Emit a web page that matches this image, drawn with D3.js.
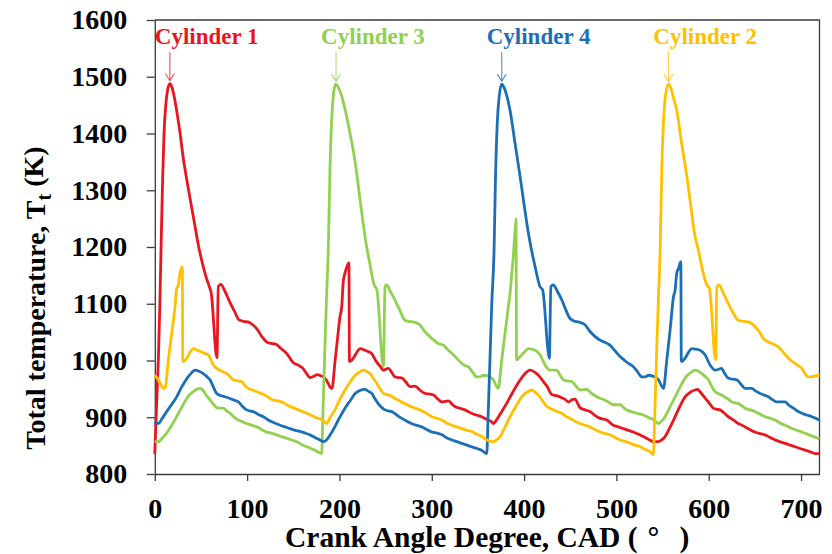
<!DOCTYPE html>
<html>
<head>
<meta charset="utf-8">
<script src="https://cdn.jsdelivr.net/npm/d3@7"></script>
<style>
  html, body { margin: 0; padding: 0; background: #fff; }
  svg { display: block; }
  .serif { font-family: "Liberation Serif", "Times New Roman", "DejaVu Serif", serif; font-weight: bold; }
</style>
</head>
<body>
<svg id="chart" width="832" height="554"></svg>
<script>
// Total temperature per cylinder over one engine cycle: [crank angle (deg), T (K)]
const cylinder1 = [
  [0,835],[2,925],[4,1010],[5.5,1100],[7,1215],[8.5,1320],[10,1400],[12,1452],[14,1478],[16.3,1488],
  [18.5,1482],[21,1465],[24,1437],[27,1405],[31,1355],[35,1315],[39,1278],[43,1242],[47,1205],[51,1175],
  [55,1150],[59.5,1128],[61,1120],[67.3,1005],[68.8,1130],[71.5,1134],[76,1122],[81.5,1102],[86,1088],[91,1072],
  [96,1069],[101,1068],[106,1063],[111,1055],[116,1042],[121,1033],[126,1030],[131,1029],[136,1022],
  [143,1012],[150,996],[155,992],[160,987],[164,978],[168,970],[172,972],[176,975],[180,973],[183,971],
  [186,965],[190,953],[192,951],[195,995],[198,1040],[200.6,1077],[202.5,1095],[204.2,1140],[206,1154],
  [208,1165],[209.7,1171],[210.3,1172],[210.8,998],[215,1004],[219,1015],[222.3,1021],[227.7,1018],
  [232,1015],[235,1012],[240,998],[244,990],[247.6,983],[253,986],[257,978],[260,971],[264,970],[268,969],
  [272,962],[276.5,954],[282,955],[287,948],[292.7,942],[297,941],[302,939],[306,933],[311,927],[318,929],
  [322,923],[325,919],[330,916],[336,913],[343,907],[348,904],[354,901],[361,895],[364,893],[367,889],
  [370,895],[375,908],[381,924],[388,945],[395,964],[400,975],[406.5,983],[411,980],[415.5,974],[420,965],
  [425,954],[430,940],[435,938],[440,935],[444,932],[448,927],[452,931],[455,932],[460.5,917],[466,913],
  [471.5,910],[477,903],[482.4,898],[489.6,895],[496.7,886],[502,883],[507.6,880],[513,877],[518.4,874],
  [524,870],[529,866],[535,861],[540,857],[545.5,857],[549,860],[552.7,866],[558,882],[563.6,901],[569,920],
  [574.4,936],[580,944],[585,948],[588,949],[590.6,945],[594,938],[598,930],[602,922],[605,916],[609,914],
  [612.4,913],[617,907],[621,901],[627,895],[632,889],[636,886],[639.4,883],[645,878],[650,874],[656,871],
  [661,869],[667,864],[672,860],[677,857],[682.7,854],[688,851],[693.6,848],[699,845],[704.4,842],
  [710,839],[715.3,836],[720,836]
];

const cylinder3 = [
  [0,857],[3.8,857],[8,863],[12.9,872],[18,885],[23.7,901],[29,917],[34.6,933],[38,940],[41.7,945],[45,949],
  [49,951],[52,948],[54.4,942],[58,934],[61.6,927],[65,920],[68.8,916],[74,916],[78,911],[81.5,907],[86,900],
  [90.5,895],[95,892],[99.5,889],[105,886],[110.4,883],[115,879],[121,874],[126,872],[132,869],[137,866],
  [143,863],[148,860],[153.7,857],[159,852],[164.6,848],[169,845],[173.6,842],[179,837],[180.8,836],
  [182,900],[184,1010],[186,1110],[188,1200],[189.8,1340],[191.5,1420],[193,1460],[194.5,1480],[196.3,1487],
  [198.5,1482],[202.5,1466],[207,1436],[211.5,1400],[217,1350],[221,1300],[225,1250],[229,1205],[233,1170],
  [237.8,1132],[240.4,1126],[247.6,989],[249.4,1130],[251.2,1133],[255,1122],[260,1107],[265,1090],
  [271,1071],[275,1069],[280,1068],[287,1063],[292,1052],[298,1042],[303,1035],[307,1030],[312.6,1027],
  [318,1018],[323.4,1010],[328,1002],[332.5,995],[336,991],[339.6,989],[344,980],[348.7,971],[352,971],
  [356,974],[361,973],[363,971],[366.7,966],[370,955],[372,951],[375.8,1001],[379.4,1048],[383,1095],
  [384.8,1118],[386.7,1154],[388.4,1185],[390,1225],[391.3,1250],[391.8,1001],[395.7,1007],[400,1014],
  [404.6,1021],[408,1020],[412,1018],[417.3,1010],[422.8,992],[428,983],[435.4,983],[439,974],[442.6,966],
  [447,964],[451.7,963],[456,955],[460.7,948],[468,949],[473,942],[478.8,936],[483,933],[487.8,930],
  [492,926],[496.7,922],[504,922],[508,917],[511,913],[516,910],[522,907],[529,904],[534,900],[540,896],
  [545.5,889],[549,893],[552.7,901],[558,918],[563.6,936],[569,953],[574.4,969],[580,978],[585,983],
  [589,981],[592.5,977],[596,972],[599.7,966],[603,955],[607,945],[610,942],[614,939],[620,933],[625,927],
  [632,924],[636,920],[639.4,916],[645,913],[650,910],[655,906],[661,901],[667,898],[672,895],[677,890],
  [682.7,886],[688,882],[693.6,878],[699,875],[704.4,872],[710,868],[715,865],[720,862]
];

const cylinder4 = [
  [0,892],[3.8,889],[8,898],[12.9,910],[18,922],[23.7,936],[28,950],[32.7,963],[38,975],[43.6,983],[48,981],
  [52.5,977],[56,972],[59.8,966],[63,955],[67,942],[72,938],[76,936],[81.5,933],[86,930],[90.5,927],[95,919],
  [99.5,913],[103,911],[106.7,910],[112,905],[117.5,901],[122,896],[126.6,892],[131,889],[135.6,886],
  [141,883],[146.5,880],[152,877],[157,875],[163,872],[168,869],[174,864],[179,860],[182.6,857],[186,860],
  [190,869],[195,883],[200,899],[206,916],[212,930],[217,942],[222,947],[227.7,949],[231,946],[235,942],
  [238,934],[242,924],[246,917],[249.4,913],[253,911],[256.7,910],[262,904],[267.5,898],[273,893],[278,889],
  [283,886],[289,883],[294,879],[300,874],[306,872],[311,869],[316,864],[321.7,860],[327,857],[332.5,854],
  [338,851],[343,848],[349,845],[354,842],[359.6,836],[361,900],[363,1000],[365,1100],[367.5,1195],
  [369,1320],[371,1420],[373,1465],[375.8,1487],[378,1482],[381,1468],[384.8,1441],[390,1385],[395.7,1324],
  [400,1275],[404.6,1225],[408,1195],[412,1165],[417.3,1130],[420,1125],[427.4,1004],[429,1130],
  [431.7,1133],[436,1122],[440.8,1107],[445,1090],[449.8,1074],[455,1069],[458.8,1068],[466,1063],
  [471,1052],[477,1042],[482,1036],[486,1033],[493,1027],[498,1018],[504,1007],[509,1000],[513,995],
  [518.4,989],[523,980],[527.5,971],[531,971],[534.7,974],[540,972],[543,970],[545.5,966],[549,955],
  [551,951],[554.6,1001],[558.2,1054],[561.8,1112],[563.6,1124],[565.4,1154],[567.2,1162],[569.8,1174],
  [570.3,998],[574.4,1004],[578,1014],[581.7,1021],[586,1020],[590.6,1018],[596,1010],[601.5,992],
  [607,983],[610,984],[614,986],[617,978],[621,969],[626,967],[630.4,966],[635,958],[639.4,951],[646.7,951],
  [651,946],[655.6,942],[660,939],[664.7,936],[669,931],[673.8,927],[682.7,927],[687,921],[691.8,916],
  [696,911],[700.9,907],[706,904],[711.7,901],[716,898],[720,895]
];

const cylinder2 = [
  [0,974],[3.8,966],[7,956],[9.2,951],[11,951],[14.7,1001],[18.3,1048],[21.9,1095],[23.7,1127],[25.5,1133],
  [27.3,1154],[29.8,1165],[30.3,998],[34.6,1004],[38,1014],[41.7,1021],[46,1018],[50.8,1015],[55,1012],
  [58,1010],[63.4,992],[67,986],[70.6,983],[74,980],[78,977],[82,971],[85,966],[90,964],[94,963],[97,957],
  [101,951],[106,948],[110.4,945],[115,942],[119.4,939],[124,934],[128.4,930],[133,929],[137.5,927],
  [142,923],[146.5,919],[151,916],[155.5,913],[160,910],[164.6,907],[169,904],[173.6,900],[177,898],
  [180.8,896],[183,893],[186,889],[190,900],[195,913],[200,930],[206,948],[212,963],[217,974],[222,980],
  [226,983],[230,980],[233,977],[237,968],[240.4,960],[244,950],[247.6,942],[251,940],[254.8,939],[259,934],
  [263.8,930],[267,927],[271,924],[276,920],[282,916],[287,913],[291,910],[296,905],[300,901],[306,898],
  [311,895],[316,890],[321.7,886],[327,883],[332.5,880],[338,877],[343,875],[349,870],[354,866],[357,863],
  [359.6,860],[363,858],[366.7,857],[370,860],[374,866],[380,885],[384.8,901],[391,919],[397.5,936],
  [403,944],[408.3,948],[412,944],[415.5,939],[420,929],[424.6,919],[428,916],[431.7,913],[436,910],
  [440.8,907],[445,902],[449.8,898],[455,893],[460.7,889],[466,886],[471.5,883],[477,878],[482.4,874],
  [488,871],[493.3,869],[499,864],[504,860],[510,857],[515,854],[520,851],[525.8,848],[531,843],[536.7,839],
  [540,834],[541.5,900],[543.5,1010],[545.5,1110],[547.4,1195],[549.2,1340],[551,1420],[553,1465],
  [556.3,1487],[559,1480],[562,1462],[565.4,1441],[570,1390],[576.3,1324],[580,1280],[585,1220],
  [588.8,1195],[592.5,1165],[598,1133],[600.8,1127],[607.5,1001],[608.8,1130],[611.3,1133],[616,1118],
  [621,1101],[626,1085],[632,1071],[638,1069],[643,1068],[650,1060],[655,1050],[659,1039],[664,1033],
  [668.4,1030],[675.5,1024],[680,1016],[684.6,1007],[689,1000],[693.6,995],[697,991],[700.9,986],
  [704,978],[708,971],[713,972],[718.9,974],[720,974]
];

const seriesNames  = ["Cylinder 1", "Cylinder 3", "Cylinder 4", "Cylinder 2"];
const seriesData   = [cylinder1, cylinder3, cylinder4, cylinder2];
const seriesColors = ["#e8161e", "#92d050", "#1b6fb6", "#ffc000"];

const xTicks = [0, 100, 200, 300, 400, 500, 600, 700];
const yTicks = [800, 900, 1000, 1100, 1200, 1300, 1400, 1500, 1600];

const svg = d3.select("#chart");
const W = 832, H = 554;
const margin = { top: 20, right: 12.5, bottom: 80, left: 154.8 };
const serifFamily = '"Liberation Serif", "Times New Roman", "DejaVu Serif", serif';

svg.append("rect").attr("width", W).attr("height", H).attr("fill", "#fff");

const x = d3.scaleLinear().domain([0, 720]).range([margin.left, W - margin.right]);
const y = d3.scaleLinear().domain([800, 1600]).range([H - margin.bottom, margin.top]);

const axisColor = "#3a3a3a";

// plot frame (top and right edges)
svg.append("path")
  .attr("d", `M${x(0)},${y(1600)}H${x(720)}V${y(800)}`)
  .attr("fill", "none").attr("stroke", axisColor).attr("stroke-width", 1.3);

const xAxis = svg.append("g")
  .attr("transform", `translate(0,${y(800)})`)
  .call(d3.axisBottom(x).tickValues(xTicks).tickFormat(d3.format("d"))
    .tickSize(7).tickSizeOuter(0).tickPadding(17));

const yAxis = svg.append("g")
  .attr("transform", `translate(${x(0)},0)`)
  .call(d3.axisLeft(y).tickValues(yTicks).tickFormat(d3.format("d"))
    .tickSize(8).tickSizeOuter(0).tickPadding(19.5));

[xAxis, yAxis].forEach(g => {
  g.attr("font-family", serifFamily);
  g.select(".domain").attr("stroke", axisColor).attr("stroke-width", 1.3);
  g.selectAll(".tick line").attr("stroke", axisColor).attr("stroke-width", 1.3);
  g.selectAll(".tick text")
    .attr("class", "serif")
    .attr("fill", "#000")
    .style("font-size", "28px");
});

// temperature traces
const line = d3.line()
  .x(d => x(d[0]))
  .y(d => y(d[1]))
  .curve(d3.curveMonotoneX);

const plot = svg.append("g");
seriesData.forEach((data, i) => {
  plot.append("path")
    .datum(data)
    .attr("d", line)
    .attr("fill", "none")
    .attr("stroke", seriesColors[i])
    .attr("stroke-width", 2.8)
    .attr("stroke-linejoin", "round");
});

// cylinder labels with arrows pointing at each combustion peak
const labels = svg.append("g");
seriesData.forEach((data, i) => {
  const peak = data[d3.maxIndex(data, d => d[1])];
  const px = x(peak[0]);
  const tipY = y(peak[1]) - 3;
  labels.append("text")
    .attr("class", "serif")
    .attr("x", px - 15)
    .attr("y", 44)
    .attr("fill", seriesColors[i])
    .style("font-size", "23px")
    .text(seriesNames[i]);
  const arrow = labels.append("g")
    .attr("stroke", seriesColors[i])
    .attr("stroke-opacity", 0.75)
    .attr("stroke-width", 1.1)
    .attr("fill", "none");
  arrow.append("line").attr("x1", px).attr("x2", px).attr("y1", 52).attr("y2", tipY);
  arrow.append("path").attr("d", `M${px - 4.5},${tipY - 7}L${px},${tipY}L${px + 4.5},${tipY - 7}`);
});

// axis titles
const xTitle = svg.append("text")
  .attr("class", "serif")
  .attr("x", 285)
  .attr("y", 547)
  .attr("fill", "#000")
  .style("font-size", "29.5px");
xTitle.append("tspan").text("Crank Angle Degree, CAD (");
xTitle.append("tspan").attr("dx", 10).text("°");
xTitle.append("tspan").attr("dx", 20).text(")");

const yTitle = svg.append("text")
  .attr("class", "serif")
  .attr("transform", "translate(45,298) rotate(-90)")
  .attr("text-anchor", "middle")
  .attr("fill", "#000")
  .style("font-size", "28px");
yTitle.append("tspan").text("Total temperature, T");
yTitle.append("tspan").attr("dy", "0.3em").style("font-size", "20px").text("t");
yTitle.append("tspan").attr("dy", "-0.3em").text(" (K)");
</script>
</body>
</html>
